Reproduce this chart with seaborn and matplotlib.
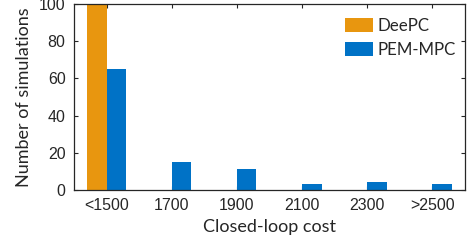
import pandas as pd
import numpy as np
import seaborn as sns
import matplotlib.pyplot as plt

# counts
cost_bins = ['<1500', '1700', '1900', '2100', '2300', '>2500']
deepc = [100, 0, 0, 0, 0, 0]
pem_mpc = [65, 15, 11, 3, 4, 3]

df = pd.DataFrame({
    'cost': cost_bins * 2,
    'count': deepc + pem_mpc,
    'method': ['DeePC'] * len(cost_bins) + ['PEM-MPC'] * len(cost_bins),
})

sns.set_style('white')
plt.rcParams['font.family'] = ['Lato', 'DejaVu Sans']

fig = plt.figure(figsize=(4.71, 2.46), dpi=100)
ax = fig.add_axes([0.157, 0.228, 0.83, 0.756])
sns.barplot(data=df, x='cost', y='count', hue='method', order=cost_bins,
            palette=['#E8960F', '#0072C6'], width=0.6, saturation=1,
            linewidth=0, ax=ax)

ax.set_xlim(-0.5, 5.5)
ax.set_ylim(0, 100)
ax.set_yticks([0, 20, 40, 60, 80, 100])
for lab in ax.get_xticklabels() + ax.get_yticklabels():
    lab.set_fontfamily('Liberation Sans')
    lab.set_fontsize(11.5)
    lab.set_color('#262626')
ax.tick_params(direction='in', length=3, width=0.8, color='#262626',
               top=True, right=True, bottom=True, left=True, pad=6)
for s in ax.spines.values():
    s.set_linewidth(0.9)
    s.set_color('#262626')

ax.set_xlabel('Closed-loop cost', fontsize=13, labelpad=4)
ax.set_ylabel('Number of simulations', fontsize=13, labelpad=5)

ax.legend(frameon=False, loc='upper left', fontsize=12.2, handlelength=1.65,
          handleheight=0.9, handletextpad=0.3, labelspacing=0.45,
          borderpad=0, borderaxespad=0, bbox_to_anchor=(0.693, 0.925))

fig.savefig('out.png', dpi=100)
